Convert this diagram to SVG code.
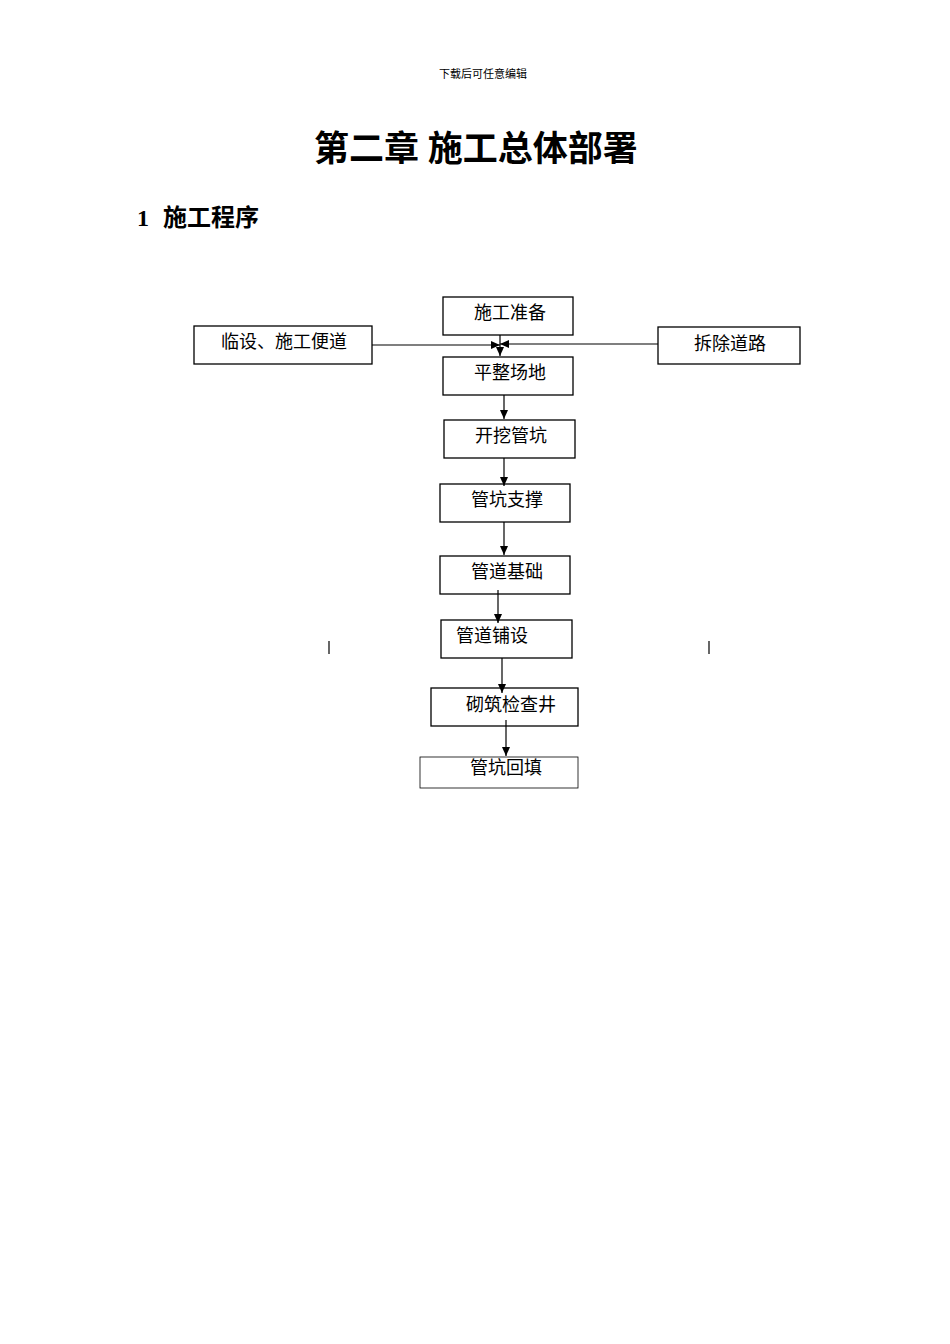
<svg xmlns="http://www.w3.org/2000/svg" width="950" height="1344" viewBox="0 0 950 1344">
<style>
.b{fill:#fff;stroke:#000;stroke-width:1.3}
.t{font-family:"Liberation Serif","Noto Sans CJK SC",serif;font-size:18px;text-anchor:middle}
.c line{stroke:#000;stroke-width:1.2}
</style>
<defs><marker id="a" markerWidth="10" markerHeight="10" refX="9" refY="5" orient="auto" markerUnits="userSpaceOnUse"><path d="M0,1 L9,5 L0,9 Z" fill="#000"/></marker></defs>
<rect width="950" height="1344" fill="#fff"/>
<text x="483" y="78" style="font-family:'Noto Sans CJK SC',sans-serif;font-size:11px;text-anchor:middle">下载后可任意编辑</text>
<text x="476" y="161" style="font-family:'Liberation Serif','Noto Sans CJK SC',serif;font-size:35px;font-weight:bold;text-anchor:middle">第二章 施工总体部署</text>
<text x="137" y="226" style="font-family:'Liberation Serif','Noto Sans CJK SC',serif;font-size:24px;font-weight:bold">1<tspan x="163">施工程序</tspan></text>
<g id="n1"><rect class="b" x="443" y="297" width="130" height="38"/><text class="t" x="510" y="319">施工准备</text></g>
<g id="n2"><rect class="b" x="194" y="326" width="178" height="38"/><text class="t" x="284" y="348">临设、施工便道</text></g>
<g id="n3"><rect class="b" x="658" y="327" width="142" height="37"/><text class="t" x="730" y="350">拆除道路</text></g>
<g id="n4"><rect class="b" x="443" y="357" width="130" height="38"/><text class="t" x="510" y="379">平整场地</text></g>
<g id="n5"><rect class="b" x="444" y="420" width="131" height="38"/><text class="t" x="511" y="442">开挖管坑</text></g>
<g id="n6"><rect class="b" x="440" y="484" width="130" height="38"/><text class="t" x="507" y="506">管坑支撑</text></g>
<g id="n7"><rect class="b" x="440" y="556" width="130" height="38"/><text class="t" x="507" y="578">管道基础</text></g>
<g id="n8"><rect class="b" x="441" y="620" width="131" height="38"/><text class="t" x="492" y="642">管道铺设</text></g>
<g id="n9"><rect class="b" x="431" y="688" width="147" height="38"/><text class="t" x="511" y="711">砌筑检查井</text></g>
<g id="n10"><rect class="b" x="420" y="757" width="158" height="31" style="stroke-width:0.8"/><text class="t" x="506" y="774">管坑回填</text></g>
<g class="c">
<line x1="500" y1="335" x2="500" y2="356" marker-end="url(#a)"/>
<line x1="372" y1="345" x2="500" y2="345" marker-end="url(#a)"/>
<line x1="658" y1="344" x2="500" y2="344" marker-end="url(#a)"/>
<line x1="504" y1="395" x2="504" y2="419" marker-end="url(#a)"/>
<line x1="504" y1="458" x2="504" y2="486" marker-end="url(#a)"/>
<line x1="504" y1="522" x2="504" y2="555" marker-end="url(#a)"/>
<line x1="498" y1="590" x2="498" y2="623" marker-end="url(#a)"/>
<line x1="502" y1="658" x2="502" y2="693" marker-end="url(#a)"/>
<line x1="506" y1="720" x2="506" y2="756" marker-end="url(#a)"/>
<line x1="329" y1="641" x2="329" y2="654"/>
<line x1="709" y1="641" x2="709" y2="654"/>
</g>
</svg>
